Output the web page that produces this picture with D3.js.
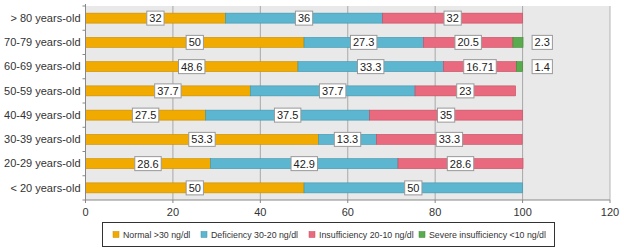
<!DOCTYPE html>
<html>
<head>
<meta charset="utf-8">
<script src="https://cdn.jsdelivr.net/npm/d3@7"></script>
<style>
  body { margin: 0; background: #fff; }
  svg { display: block; font-family: "Liberation Sans", Arial, sans-serif; }
</style>
</head>
<body>
<div id="chart"></div>
<script>
// Age groups, top to bottom
const groups = ['> 80 years-old', '70-79 years-old', '60-69 years-old', '50-59 years-old',
  '40-49 years-old', '30-39 years-old', '20-29 years-old', '< 20 years-old'];

const seriesNames = ['Normal >30 ng/dl', 'Deficiency 30-20 ng/dl',
  'Insufficiency 20-10 ng/dl', 'Severe insufficiency <10 ng/dl'];

const normal        = [32, 50, 48.6, 37.7, 27.5, 53.3, 28.6, 50];
const deficiency    = [36, 27.3, 33.3, 37.7, 37.5, 13.3, 42.9, 50];
const insufficiency = [32, 20.5, 16.71, 23, 35, 33.3, 28.6, 0];
const severe        = [0, 2.3, 1.4, 0, 0, 0, 0, 0];

const xTicks = [0, 20, 40, 60, 80, 100, 120];

const colors = ['#f0aa00', '#5cb6cf', '#e96a7e', '#5aab4e'];
const strokes = ['#c98c00', '#3f94ab', '#c44d60', '#3f8a36'];

const W = 624, H = 250;
const plot = { left: 85.5, right: 610, top: 6, bottom: 200 };

const svg = d3.select('#chart').append('svg')
  .attr('width', W).attr('height', H);

const x = d3.scaleLinear().domain([0, 120]).range([plot.left, plot.right]);
const y = d3.scaleBand().domain(groups).range([plot.top, plot.bottom]);
const barH = 10;

// plot background
svg.append('rect')
  .attr('x', plot.left).attr('y', plot.top)
  .attr('width', plot.right - plot.left).attr('height', plot.bottom - plot.top)
  .attr('fill', '#e9e9e9');

// vertical gridlines
svg.append('g').selectAll('line')
  .data(xTicks.filter(d => d > 0))
  .join('line')
  .attr('x1', d => x(d)).attr('x2', d => x(d))
  .attr('y1', plot.top).attr('y2', plot.bottom)
  .attr('stroke', d => d === 120 ? '#b5b5b5' : '#a8a8a8')
  .attr('stroke-width', 1);

// stacked data
const rows = groups.map((g, i) => ({ group: g, values: [normal[i], deficiency[i], insufficiency[i], severe[i]] }));
const segs = [];
rows.forEach(r => {
  let acc = 0;
  r.values.forEach((v, k) => {
    if (v > 0) segs.push({ group: r.group, k: k, v: v, x0: acc, x1: acc + v });
    acc += v;
  });
});

svg.append('g').selectAll('rect')
  .data(segs)
  .join('rect')
  .attr('x', d => x(d.x0))
  .attr('y', d => y(d.group) + y.bandwidth() / 2 - barH / 2)
  .attr('width', d => x(d.x1) - x(d.x0))
  .attr('height', barH)
  .attr('fill', d => colors[d.k])
  .attr('stroke', d => strokes[d.k])
  .attr('stroke-width', 0.6);

// value labels in white boxes (severe values sit right of the bars)
const labels = svg.append('g').selectAll('g')
  .data(segs)
  .join('g')
  .attr('transform', d => {
    const cx = d.k === 3 ? x(104.5) : x((d.x0 + d.x1) / 2);
    return `translate(${cx},${y(d.group) + y.bandwidth() / 2})`;
  });

labels.append('text')
  .attr('text-anchor', 'middle')
  .attr('dy', '0.36em')
  .style('font-size', '11px')
  .attr('fill', '#222')
  .text(d => d.v);

labels.each(function() {
  const g = d3.select(this);
  const bb = g.select('text').node().getBBox();
  g.insert('rect', 'text')
    .attr('x', bb.x - 2.5).attr('y', -7)
    .attr('width', bb.width + 5).attr('height', 14)
    .attr('fill', '#fff')
    .attr('stroke', '#999')
    .attr('stroke-width', 1);
});

// y axis
const yAxis = svg.append('g');
yAxis.append('line')
  .attr('x1', plot.left).attr('x2', plot.left)
  .attr('y1', plot.top - 2).attr('y2', plot.bottom)
  .attr('stroke', '#888');
yAxis.selectAll('line.tick')
  .data(groups.map(g => y(g)).concat([plot.bottom]))
  .join('line')
  .attr('class', 'tick')
  .attr('x1', plot.left - 3).attr('x2', plot.left)
  .attr('y1', d => d).attr('y2', d => d)
  .attr('stroke', '#888');
yAxis.selectAll('text')
  .data(groups)
  .join('text')
  .attr('x', plot.left - 5)
  .attr('y', d => y(d) + y.bandwidth() / 2)
  .attr('dy', '0.35em')
  .attr('text-anchor', 'end')
  .style('font-size', '11px')
  .attr('fill', '#333')
  .text(d => d);

// x axis
const xAxis = svg.append('g');
xAxis.append('line')
  .attr('x1', plot.left).attr('x2', plot.right)
  .attr('y1', plot.bottom).attr('y2', plot.bottom)
  .attr('stroke', '#888');
xAxis.selectAll('line.tick')
  .data(xTicks)
  .join('line')
  .attr('class', 'tick')
  .attr('x1', d => x(d)).attr('x2', d => x(d))
  .attr('y1', plot.bottom).attr('y2', plot.bottom + 3)
  .attr('stroke', '#888');
xAxis.selectAll('text')
  .data(xTicks)
  .join('text')
  .attr('x', d => x(d))
  .attr('y', plot.bottom + 16)
  .attr('text-anchor', 'middle')
  .style('font-size', '11px')
  .attr('fill', '#333')
  .text(d => d);

// legend
const legend = svg.append('g');
legend.append('rect')
  .attr('x', 102.5).attr('y', 222.5)
  .attr('width', 452).attr('height', 24)
  .attr('fill', '#fff')
  .attr('stroke', '#333');
const legendX = [113, 201, 309, 419];
const items = legend.selectAll('g.item')
  .data(seriesNames)
  .join('g')
  .attr('class', 'item')
  .attr('transform', (d, i) => `translate(${legendX[i]},234.5)`);
items.append('rect')
  .attr('x', 0).attr('y', -3)
  .attr('width', 6).attr('height', 6)
  .attr('fill', (d, i) => colors[i])
  .attr('stroke', (d, i) => strokes[i])
  .attr('stroke-width', 0.5);
items.append('text')
  .attr('x', 10)
  .attr('dy', '0.35em')
  .style('font-size', '8.8px')
  .attr('fill', '#333')
  .text(d => d);
</script>
</body>
</html>
